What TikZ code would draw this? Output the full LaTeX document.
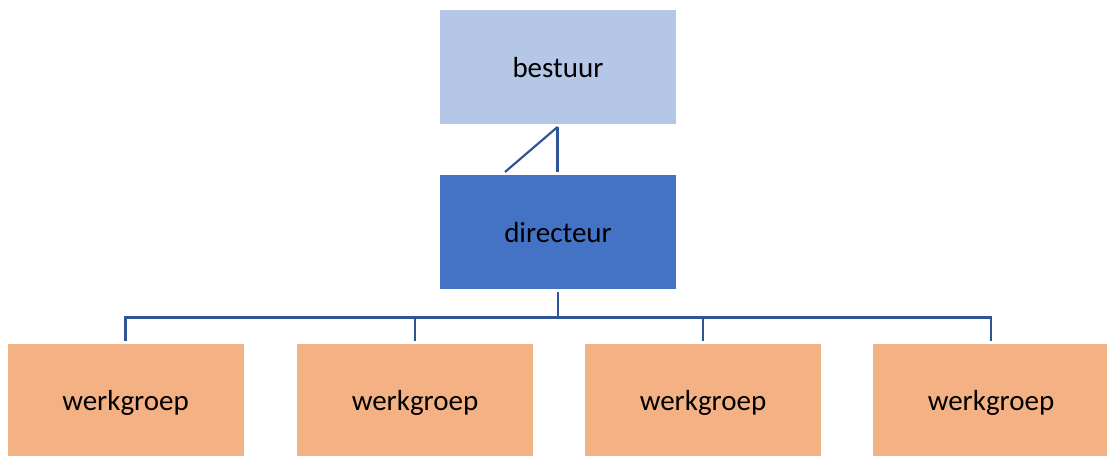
\documentclass[tikz,border=0pt]{standalone}
\usepackage{fontspec}
\setmainfont{Carlito}
\definecolor{topfill}{HTML}{B4C7E7}
\definecolor{dirfill}{HTML}{4472C4}
\definecolor{wgfill}{HTML}{F4B183}
\definecolor{linecol}{HTML}{2F5597}
\begin{document}
\begin{tikzpicture}[x=1pt,y=-1pt,
  boxstyle/.style={minimum width=236pt,minimum height=114pt,inner sep=0pt,outer sep=0pt,draw=none,font=\fontsize{29}{34}\selectfont,text height=24pt,text depth=3pt},
  conn/.style={draw=linecol,line width=2.2pt,line join=miter}]
\useasboundingbox (0,0) rectangle (1107,455);
\node[boxstyle,fill=topfill] (bestuur) at (558,67) {bestuur};
\node[boxstyle,fill=dirfill] (directeur) at (558,232) {directeur};
\node[boxstyle,fill=wgfill,minimum height=112pt] (w1) at (125.5,399.5) {werkgroep};
\node[boxstyle,fill=wgfill,minimum height=112pt] (w2) at (415,399.5) {werkgroep};
\node[boxstyle,fill=wgfill,minimum height=112pt] (w3) at (703,399.5) {werkgroep};
\node[boxstyle,fill=wgfill,minimum height=112pt] (w4) at (991,399.5) {werkgroep};
\coordinate (ctop) at (557.5,127);
\coordinate (cbot) at (557.5,172);
\coordinate (cdiag) at (505,172);
\draw[conn] (ctop) -- (cbot);
\draw[conn,line cap=butt] (ctop) -- (cdiag);
\coordinate (bus) at (558,317.5);
\draw[conn] (directeur.south) ++(0,3) -- (bus);
\draw[conn] ([yshift=3pt]w1.north) |- (bus) -| ([yshift=3pt]w4.north);
\draw[conn] ([yshift=3pt]w2.north) -- ++(0,-23.5);
\draw[conn] ([yshift=3pt]w3.north) -- ++(0,-23.5);
\end{tikzpicture}
\end{document}
